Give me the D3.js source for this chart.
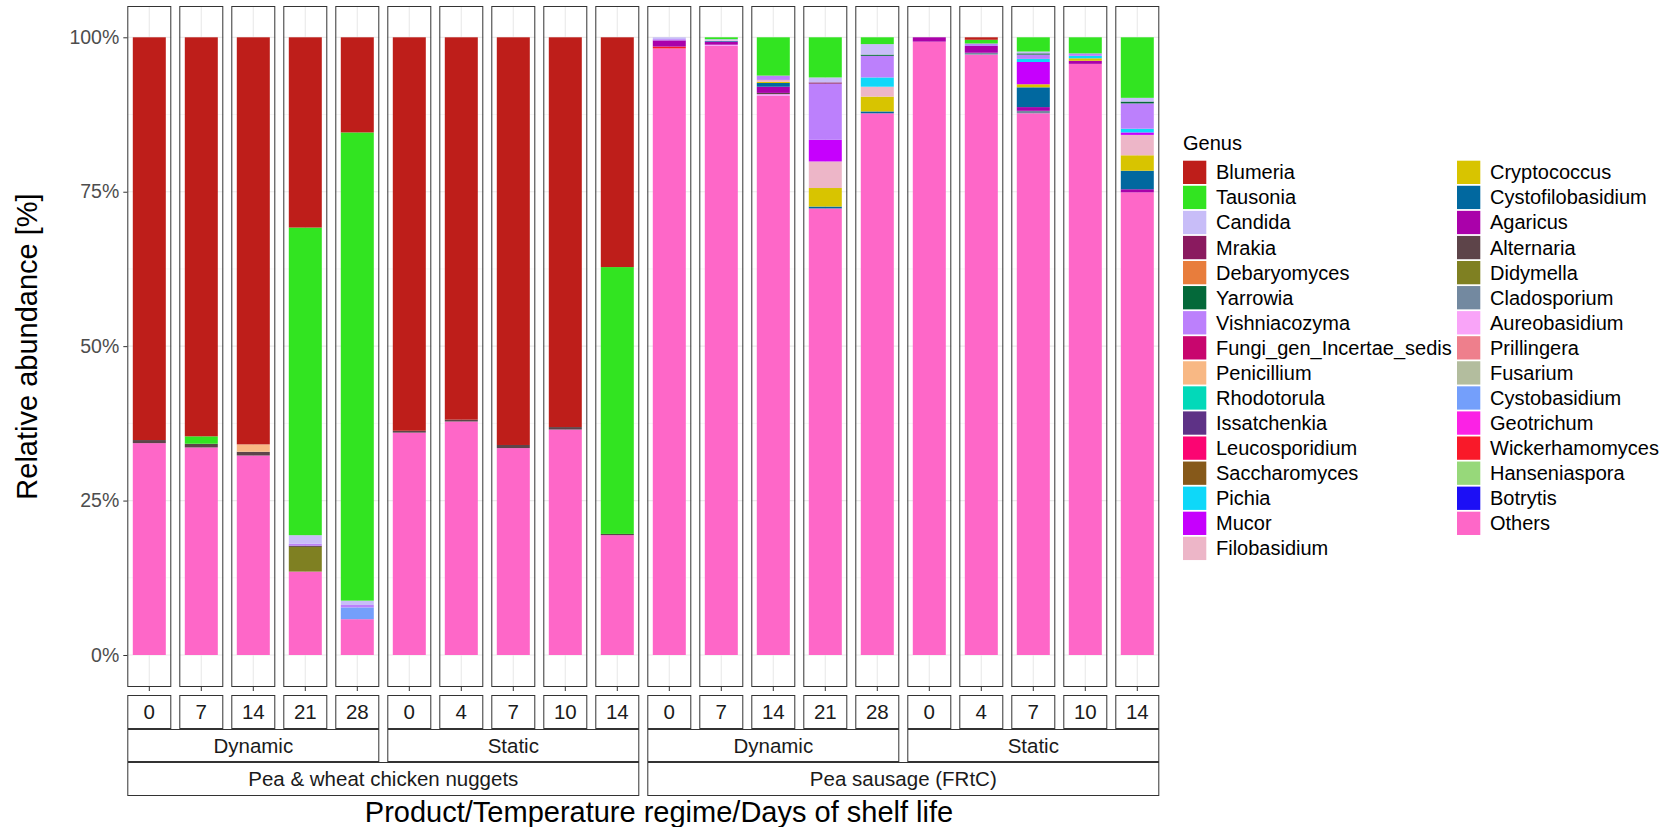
<!DOCTYPE html>
<html>
<head>
  <meta charset="utf-8">
  <title>Genus composition</title>
  <script src="https://cdn.jsdelivr.net/npm/d3@7"></script>
  <style>
    body { margin: 0; background: #fff; }
    text { font-family: "Liberation Sans", Arial, sans-serif; }
  </style>
</head>
<body>
<div id="container"></div>
<script>
// sample labels (one bar per sample)
var days = ["0","7","14","21","28", "0","4","7","10","14",
            "0","7","14","21","28", "0","4","7","10","14"];
var regimes = ["Dynamic","Static","Dynamic","Static"];
var products = ["Pea & wheat chicken nuggets","Pea sausage (FRtC)"];

// legend order (first = top of stack)
var genera = ["Blumeria","Tausonia","Candida","Mrakia","Debaryomyces","Yarrowia","Vishniacozyma",
  "Fungi_gen_Incertae_sedis","Penicillium","Rhodotorula","Issatchenkia","Leucosporidium",
  "Saccharomyces","Pichia","Mucor","Filobasidium","Cryptococcus","Cystofilobasidium","Agaricus",
  "Alternaria","Didymella","Cladosporium","Aureobasidium","Prillingera","Fusarium","Cystobasidium",
  "Geotrichum","Wickerhamomyces","Hanseniaspora","Botrytis","Others"];
var genusColors = ["#BE1E1A","#32E421","#C8BDF8","#8A1A5F","#E87D3C","#04693A","#BC80FC",
  "#C8066E","#F8B884","#02D9B9","#5E3286","#FB0572","#86591A","#0ED8F9","#C600FD","#EDB6C8",
  "#D8C400","#01689F","#AA01AA","#5D4449","#7F8022","#7389A0","#F9A4F8","#EE7F8C","#B3BD9E",
  "#749FFB","#FB22E5","#F91929","#97D87A","#1C0FF5","#FE67C8"];

// relative abundance [%] per sample
var abundance = [
  {Others:34.3, Alternaria:0.5, Blumeria:65.2},
  {Others:33.6, Alternaria:0.6, Tausonia:1.2, Blumeria:64.6},
  {Others:32.3, Alternaria:0.6, Penicillium:1.2, Blumeria:65.9},
  {Others:13.5, Didymella:4.0, Alternaria:0.2, Vishniacozyma:0.3, Candida:1.4, Tausonia:49.8, Blumeria:30.8},
  {Others:5.8, Cystobasidium:1.9, Vishniacozyma:0.4, Candida:0.7, Tausonia:75.8, Blumeria:15.4},
  {Others:36.0, Alternaria:0.3, Blumeria:63.7},
  {Others:37.8, Alternaria:0.3, Blumeria:61.9},
  {Others:33.5, Alternaria:0.5, Blumeria:66.0},
  {Others:36.5, Alternaria:0.4, Blumeria:63.1},
  {Others:19.4, Alternaria:0.2, Tausonia:43.2, Blumeria:37.2},
  {Others:98.2, Wickerhamomyces:0.3, Agaricus:1.0, Vishniacozyma:0.2, Candida:0.3},
  {Others:98.6, Aureobasidium:0.2, Agaricus:0.5, Cystofilobasidium:0.1, Filobasidium:0.1, Candida:0.2, Tausonia:0.3},
  {Others:90.5, Aureobasidium:0.3, Alternaria:0.2, Agaricus:1.0, Cystofilobasidium:0.6, Cryptococcus:0.2, Filobasidium:0.3, Vishniacozyma:0.7, Tausonia:6.2},
  {Others:72.3, Cystofilobasidium:0.3, Cryptococcus:3.0, Filobasidium:4.3, Mucor:3.5, Vishniacozyma:9.1, Mrakia:0.2, Candida:0.8, Tausonia:6.5},
  {Others:87.7, Cystofilobasidium:0.3, Cryptococcus:2.4, Filobasidium:1.6, Pichia:1.5, Vishniacozyma:3.5, Yarrowia:0.2, Candida:1.7, Tausonia:1.1},
  {Others:99.3, Agaricus:0.7},
  {Others:97.2, Cladosporium:0.3, Agaricus:1.1, Vishniacozyma:0.4, Tausonia:0.6, Blumeria:0.4},
  {Others:87.7, Cladosporium:0.4, Agaricus:0.6, Cystofilobasidium:3.2, Cryptococcus:0.5, Mucor:3.6, Pichia:0.5, Vishniacozyma:0.7, Yarrowia:0.2, Candida:0.3, Tausonia:2.3},
  {Others:95.7, Agaricus:0.5, Cryptococcus:0.4, Pichia:0.4, Vishniacozyma:0.4, Tausonia:2.6},
  {Others:74.9, Agaricus:0.5, Cystofilobasidium:3.0, Cryptococcus:2.5, Filobasidium:3.3, Mucor:0.4, Pichia:0.6, Vishniacozyma:4.1, Yarrowia:0.3, Candida:0.6, Tausonia:9.8}
];
var yTicks = [0, 0.25, 0.5, 0.75, 1];

var W = 1677, H = 827;
var svg = d3.select("#container").append("svg").attr("width", W).attr("height", H);

var ids = d3.range(abundance.length);
var x = d3.scaleBand().domain(ids).range([127.3, 1159.3]).paddingInner(8/52).paddingOuter(0);
var y = d3.scaleLinear().domain([0, 1]).range([655, 37.3]);
var panelTop = 6, panelBottom = 687;
var barW = x.bandwidth() * 0.75;

var color = d3.scaleOrdinal().domain(genera).range(genusColors);
var stack = d3.stack()
  .keys(genera.slice().reverse())
  .value(function(d, k){ return d[k] || 0; })
  .offset(d3.stackOffsetExpand);
var series = stack(abundance);

// panels: background, grid
var panels = svg.append("g").selectAll("g").data(ids).enter().append("g")
  .attr("transform", function(d){ return "translate(" + x(d) + ",0)"; });
panels.append("rect").attr("x", 0).attr("y", panelTop).attr("width", x.bandwidth())
  .attr("height", panelBottom - panelTop).attr("fill", "#fff");
var minor = [0.125, 0.375, 0.625, 0.875];
minor.forEach(function(t){
  panels.append("line").attr("x1", 0).attr("x2", x.bandwidth()).attr("y1", y(t)).attr("y2", y(t))
    .attr("stroke", "#F4F4F4").attr("stroke-width", 0.8);
});
yTicks.forEach(function(t){
  panels.append("line").attr("x1", 0).attr("x2", x.bandwidth()).attr("y1", y(t)).attr("y2", y(t))
    .attr("stroke", "#EBEBEB").attr("stroke-width", 1.2);
});
panels.append("line").attr("x1", x.bandwidth()/2).attr("x2", x.bandwidth()/2)
  .attr("y1", panelTop).attr("y2", panelBottom).attr("stroke", "#EBEBEB").attr("stroke-width", 1.2);

// stacked bars
svg.append("g").selectAll("g").data(series).enter().append("g")
  .attr("fill", function(s){ return color(s.key); })
  .selectAll("rect").data(function(s){ return s.map(function(v, i){ return {v: v, i: i}; }); })
  .enter().append("rect")
  .attr("x", function(d){ return x(d.i) + (x.bandwidth() - barW)/2; })
  .attr("width", barW)
  .attr("y", function(d){ return y(d.v[1]); })
  .attr("height", function(d){ return y(d.v[0]) - y(d.v[1]); });

// panel borders
panels.append("rect").attr("x", 0.5).attr("y", panelTop + 0.5).attr("width", x.bandwidth() - 1)
  .attr("height", panelBottom - panelTop - 1).attr("fill", "none").attr("stroke", "#333").attr("stroke-width", 1);

// x ticks
panels.append("line").attr("x1", x.bandwidth()/2).attr("x2", x.bandwidth()/2)
  .attr("y1", panelBottom).attr("y2", panelBottom + 4).attr("stroke", "#333").attr("stroke-width", 1);

// y axis
var yAxis = d3.axisLeft(y).tickValues(yTicks).tickSize(4).tickPadding(4).tickFormat(d3.format(".0%"));
var ya = svg.append("g").attr("transform", "translate(" + x(0) + ",0)").call(yAxis);
ya.select(".domain").remove();
ya.selectAll(".tick line").attr("stroke", "#333");
ya.selectAll(".tick text").attr("fill", "#4D4D4D").style("font-size", "19.5px")
  .style("font-family", "'Liberation Sans', Arial, sans-serif");

// strips
function strip(x0, x1, y0, y1, label){
  svg.append("rect").attr("x", x0 + 0.5).attr("y", y0 + 0.5).attr("width", x1 - x0 - 1).attr("height", y1 - y0 - 1)
    .attr("fill", "#fff").attr("stroke", "#333").attr("stroke-width", 1);
  svg.append("text").attr("x", (x0 + x1)/2).attr("y", (y0 + y1)/2).attr("dy", "0.35em")
    .attr("text-anchor", "middle").attr("fill", "#1A1A1A").style("font-size", "20.5px").text(label);
}
ids.forEach(function(i){ strip(x(i), x(i) + x.bandwidth(), 695, 729, days[i]); });
regimes.forEach(function(r, j){ strip(x(j*5), x(j*5 + 4) + x.bandwidth(), 729, 762, r); });
products.forEach(function(p, j){ strip(x(j*10), x(j*10 + 9) + x.bandwidth(), 762, 796, p); });

// axis titles
svg.append("text").attr("x", 659).attr("y", 822)
  .attr("text-anchor", "middle").attr("fill", "#000").style("font-size", "29px")
  .text("Product/Temperature regime/Days of shelf life");
svg.append("text").attr("transform", "translate(37," + ((panelTop + panelBottom)/2) + ") rotate(-90)")
  .attr("text-anchor", "middle").attr("fill", "#000").style("font-size", "29px")
  .text("Relative abundance [%]");

// legend
var legend = svg.append("g").attr("transform", "translate(1183,0)");
legend.append("text").attr("x", 0).attr("y", 150).attr("fill", "#000").style("font-size", "20px").text("Genus");
var perCol = 16, keySize = 23.3, rowH = 25.07, colW = 274;
var items = legend.selectAll("g.item").data(genera).enter().append("g").attr("class", "item")
  .attr("transform", function(d, i){
    return "translate(" + (Math.floor(i/perCol)*colW) + "," + (160.7 + (i % perCol)*rowH) + ")";
  });
items.append("rect").attr("width", keySize).attr("height", keySize).attr("fill", function(d){ return color(d); });
items.append("text").attr("x", 33).attr("y", keySize/2).attr("dy", "0.35em").attr("fill", "#000")
  .style("font-size", "20px").text(function(d){ return d; });
</script>
</body>
</html>
